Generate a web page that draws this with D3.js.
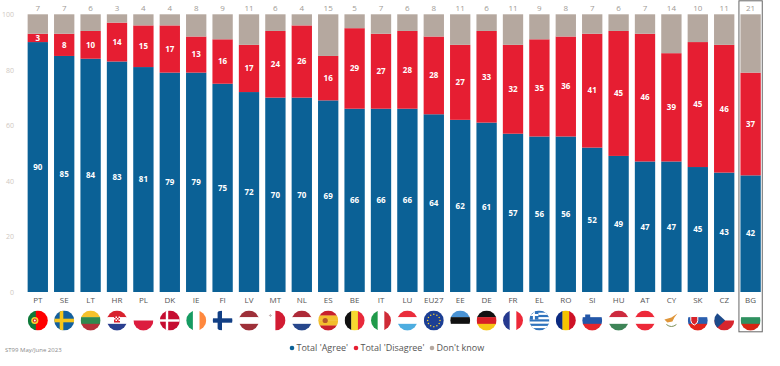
<!DOCTYPE html>
<html><head><meta charset="utf-8">
<script src="https://cdn.jsdelivr.net/npm/d3@7/dist/d3.min.js"></script>
<style>html,body{margin:0;padding:0;background:#fff}svg{display:block}text{font-family:"Open Sans",sans-serif}</style>
</head><body><svg id="c" width="780" height="366"></svg>
<script>
const countries=["PT","SE","LT","HR","PL","DK","IE","FI","LV","MT","NL","ES","BE","IT","LU","EU27","EE","DE","FR","EL","RO","SI","HU","AT","CY","SK","CZ","BG"];
const agree=[90,85,84,83,81,79,79,75,72,70,70,69,66,66,66,64,62,61,57,56,56,52,49,47,47,45,43,42];
const disagree=[3,8,10,14,15,17,13,16,17,24,26,16,29,27,28,28,27,33,32,35,36,41,45,46,39,45,46,37];
const dontKnow=[7,7,6,3,4,4,8,9,11,6,4,15,5,7,6,8,11,6,11,9,8,7,6,7,14,10,11,21];
const yTicks=[0,20,40,60,80,100];
const seriesNames=["Total 'Agree'","Total 'Disagree'","Don't know"];
const colors=["#0b6196","#e61e32","#b5a89f"];
const horizontal={LT:["#f5c22c","#2f8a4f","#b5313a"],HR:["#d8222e","#fff","#2a3f8f"],PL:["#fff","#dc1c3e"],LV:["#9e3039","#fff","#9e3039"],NL:["#ae2a38","#fff","#27478c"],ES:["#c8202c","#f3bf2d","#f3bf2d","#c8202c"],LU:["#ea2d3c","#fff","#4dade0"],EE:["#4a93d4","#111","#fff"],DE:["#111","#d81f26","#f7c615"],SI:["#fff","#2357a8","#e6262c"],HU:["#cd2a3e","#fff","#3e8457"],AT:["#ed2939","#fff","#ed2939"],SK:["#fff","#2b5fae","#e2231a"],BG:["#fff","#2f9160","#d62612"]};
const vertical={PT:["#0f7a3a","#0f7a3a","#f00","#f00","#f00"],IE:["#169b62","#fff","#ff883e"],MT:["#fff","#d21c33"],BE:["#111","#f6d92f","#e8293a"],IT:["#1f9a4a","#fff","#cf2b37"],FR:["#25398f","#fff","#ed2939"],RO:["#0b2a80","#f5c400","#ce1126"]};

const svg=d3.select("#c");
const x=d3.scaleBand().domain(countries).range([24.6,763.8]).paddingInner(0.23).paddingOuter(0.115);
const y=d3.scaleLinear().domain([0,100]).range([292,14.3]);

const axis=svg.append("g").attr("transform","translate(14,0)")
  .call(d3.axisLeft(y).tickValues(yTicks).tickSize(0).tickPadding(0));
axis.select(".domain").remove();
axis.selectAll("text").attr("fill","#cfc8c2").style("font-size","7px").style("font-family","'Open Sans',sans-serif");

const rows=countries.map((c,i)=>({c,a:agree[i],d:disagree[i],k:dontKnow[i]}));
const stack=d3.stack().keys(["a","d","k"])(rows);
svg.append("g").selectAll("g").data(stack).join("g").attr("fill",(s,i)=>colors[i])
  .selectAll("rect").data(s=>s).join("rect")
  .attr("x",d=>x(d.data.c)).attr("width",x.bandwidth())
  .attr("y",d=>y(d[1])).attr("height",d=>y(d[0])-y(d[1]));

[0,1].forEach(i=>{
  svg.append("g").selectAll("text").data(stack[i]).join("text")
    .attr("x",d=>x(d.data.c)+x.bandwidth()/2).attr("y",d=>y((d[0]+d[1])/2)+2.8)
    .attr("text-anchor","middle").attr("fill","#fff")
    .style("font-size","8px").style("font-weight",700)
    .text(d=>d[1]-d[0]);
});
svg.append("g").selectAll("text").data(rows).join("text")
  .attr("x",d=>x(d.c)+x.bandwidth()/2).attr("y",10.8)
  .attr("text-anchor","middle").attr("fill","#a09a95").style("font-size","8px")
  .text(d=>d.k);

svg.append("g").attr("transform","translate(0,302.5)")
  .call(d3.axisBottom(x).tickSize(0).tickPadding(0))
  .call(g=>g.select(".domain").remove())
  .selectAll("text").attr("fill","#555").attr("dy","0").style("font-size","8px").style("font-family","'Open Sans',sans-serif");

const r=10;
const defs=svg.append("defs");
defs.append("clipPath").attr("id","flagClip").append("circle").attr("r",r);
const flags=svg.append("g").selectAll("g").data(countries).join("g")
  .attr("transform",c=>`translate(${x(c)+x.bandwidth()/2},320.5)`)
  .append("g").attr("clip-path","url(#flagClip)");
flags.each(function(c){
  const g=d3.select(this);
  const rect=(a,b,w,h,f)=>g.append("rect").attr("x",a).attr("y",b).attr("width",w).attr("height",h).attr("fill",f);
  const hs=horizontal[c],vs=vertical[c];
  if(hs){const s=d3.scaleBand().domain(d3.range(hs.length)).range([-r,r]);hs.forEach((f,i)=>rect(-r,s(i),2*r,s.bandwidth()+.3,f));}
  if(vs){const s=d3.scaleBand().domain(d3.range(vs.length)).range([-r,r]);vs.forEach((f,i)=>rect(s(i),-r,s.bandwidth()+.3,2*r,f));}
  if(c==="PT"){g.append("circle").attr("cx",-3).attr("r",3.6).attr("fill","#f5d130");g.append("circle").attr("cx",-3).attr("r",2).attr("fill","#d8232a");g.append("circle").attr("cx",-3).attr("r",1).attr("fill","#fff");}
  if(c==="SE"){rect(-r,-r,2*r,2*r,"#13609f");rect(-r,-1.8,2*r,3.6,"#f6c51a");rect(-4.5,-r,3.6,2*r,"#f6c51a");}
  if(c==="DK"){rect(-r,-r,2*r,2*r,"#c60c30");rect(-r,-1.2,2*r,2.4,"#fff");rect(-4,-r,2.4,2*r,"#fff");}
  if(c==="FI"){rect(-r,-r,2*r,2*r,"#fff");rect(-r,-2.2,2*r,4.4,"#123f85");rect(-5,-r,4.4,2*r,"#123f85");}
  if(c==="EL"){rect(-r,-r,2*r,2*r,"#2f73bd");[-7.8,-3.4,1,5.4].forEach(v=>rect(-r,v,2*r,2.2,"#fff"));rect(-r,-r,9,9,"#2f73bd");rect(-r,-6.5,9,2,"#fff");rect(-6.5,-r,2,9,"#fff");}
  if(c==="EU27"){rect(-r,-r,2*r,2*r,"#1c3f94");d3.range(12).forEach(i=>g.append("circle").attr("cx",6.2*Math.cos(i*Math.PI/6)).attr("cy",6.2*Math.sin(i*Math.PI/6)).attr("r",.75).attr("fill","#f6cf2e"));}
  if(c==="MT"){rect(-6.5,-5.5,3,1,"#cdb7b7");rect(-5.5,-6.5,1,3,"#cdb7b7");}
  if(c==="ES"){g.append("circle").attr("cx",-3).attr("r",2.6).attr("fill","#b5562a");}
  if(c==="HR"){rect(-3,-4,6,6,"#d8222e");rect(-1.5,-4,1.5,1.5,"#fff");rect(1.5,-4,1.5,1.5,"#fff");rect(-3,-2.5,1.5,1.5,"#fff");rect(0,-2.5,1.5,1.5,"#fff");rect(-1.5,-1,1.5,1.5,"#fff");rect(1.5,-1,1.5,1.5,"#fff");}
  if(c==="SI"){g.append("path").attr("d","M-7-6h5v4q0 2-2.5 3q-2.5-1-2.5-3z").attr("fill","#2357a8");}
  if(c==="SK"){g.append("path").attr("d","M-7-4h7v4q0 3-3.5 4.5q-3.500-1.500-3.500-4.500z").attr("fill","#d8232a").attr("stroke","#fff");}
  if(c==="CZ"){rect(-r,-r,2*r,r,"#fff");rect(-r,0,2*r,r,"#d7262e");g.append("path").attr("d","M-10-10L1 0L-10 10z").attr("fill","#1d4a8a");}
  if(c==="CY"){g.append("path").attr("d","M-7-1L0-3L6-7L3-3L1 1L-4 2z").attr("fill","#e0963a");g.append("path").attr("d","M-5 4Q0 8 5 4").attr("fill","none").attr("stroke","#7d8f57").attr("stroke-width",1);}
});

const bgBand=x("BG");
svg.append("rect").attr("x",bgBand-1.5).attr("y",.8).attr("width",x.bandwidth()+3).attr("height",331)
  .attr("fill","none").attr("stroke","#666").attr("stroke-width",1);

svg.append("text").attr("x",5).attr("y",352).attr("fill","#8a8a8a").style("font-size","6px").text("ST99 May/June 2023");

const legendX=[292,356,432];
const legend=svg.append("g").selectAll("g").data(seriesNames).join("g").attr("transform",(d,i)=>`translate(${legendX[i]},348)`);
legend.append("circle").attr("r",2.3).attr("fill",(d,i)=>colors[i]);
legend.append("text").attr("x",4.5).attr("y",3.2).attr("fill","#555").style("font-size","9px").text(d=>d);
</script></body></html>
